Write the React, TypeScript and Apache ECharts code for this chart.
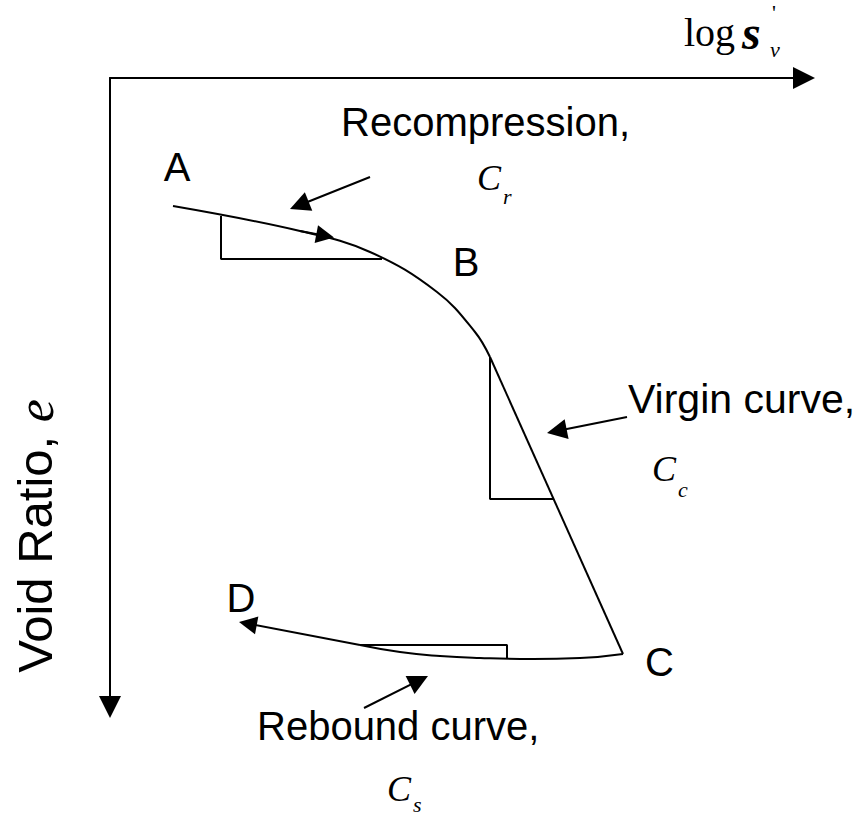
import React, { useEffect, useRef } from "react";
import * as echarts from "echarts";

type Pt = [number, number];

// Compression curve A → B (recompression branch bending into the virgin line)
const recompressionCurve: Pt[] = [
  [63, 501], [190, 476], [260, 455], [327, 415], [365, 375], [380, 350],
];
// Straight virgin compression line B → C
const virginLine: Pt[] = [[380, 350], [513, 53]];
// Unloading (rebound) curve C → D
const reboundCurve: Pt[] = [
  [513, 53], [470, 49], [423, 48], [370, 49], [330, 51], [290, 55], [250, 62],
];
// Last straight piece of the rebound curve, ending in an arrow at D
const reboundTail: [Pt, Pt] = [[250, 62], [129, 85]];
// Direction arrow drawn on the recompression branch
const recompressionArrow: [Pt, Pt] = [[190, 476], [224, 469.5]];

// Slope triangles for Cr, Cc and Cs
const slopeCr: Pt[] = [[111, 491], [111, 448], [272, 448]];
const slopeCc: Pt[] = [[380, 350], [380, 208], [443, 208]];
const slopeCs: Pt[] = [[250, 62], [397, 62], [397, 49]];

// Leader arrows from the annotations to the curve
const leaderArrows: [Pt, Pt][] = [
  [[260, 530], [180, 498]],
  [[517, 290], [437, 274]],
  [[254, -1], [318, 31]],
];

const AXIS_X_MAX = 694;
const AXIS_Y_MAX = 629;

const SANS = "Liberation Sans, Arial, sans-serif";
const SERIF = "Liberation Serif, Times New Roman, serif";

// The arrowhead symbol is centred on the segment end; pull the end back by
// half the head length so that the tip lands on the given point.
// (Both axes map one unit to one pixel.)
function pullBack([from, to]: [Pt, Pt], len: number): [Pt, Pt] {
  const dx = to[0] - from[0];
  const dy = to[1] - from[1];
  const d = Math.hypot(dx, dy);
  return [from, [to[0] - (dx / d) * len, to[1] - (dy / d) * len]];
}

export default function App() {
  const ref = useRef<HTMLDivElement>(null);

  useEffect(() => {
    if (!ref.current) return;
    const chart = echarts.init(ref.current, undefined, { renderer: "svg" });

    const black = "#000";
    const curveStyle = { color: black, width: 2 };

    const lineSeries = (data: Pt[], smooth: boolean | number) => ({
      type: "line",
      data,
      smooth,
      symbol: "none",
      lineStyle: curveStyle,
      silent: true,
      clip: false,
    });

    const arrowSeries = (segs: [Pt, Pt][], size: [number, number]) => ({
      type: "lines",
      coordinateSystem: "cartesian2d",
      data: segs.map((s) => ({ coords: pullBack(s, size[1] / 2) })),
      symbol: ["none", "triangle"],
      symbolSize: size,
      lineStyle: { color: black, width: 2, opacity: 1, curveness: 0 },
      itemStyle: { color: black },
      silent: true,
      clip: false,
    });

    const label = (text: string, x: number, y: number, opts: any = {}) => ({
      type: "text",
      x,
      y,
      silent: true,
      style: {
        text,
        fill: black,
        fontFamily: SANS,
        fontSize: 40,
        align: "left",
        verticalAlign: "middle",
        ...opts,
      },
    });

    const italicC = (x: number, y: number) =>
      label("C", x, y, { fontFamily: SERIF, fontStyle: "italic", fontSize: 36 });
    const sub = (t: string, x: number, y: number) =>
      label(t, x, y, { fontFamily: SERIF, fontStyle: "italic", fontSize: 22 });

    chart.setOption({
      animation: false,
      backgroundColor: "#fff",
      grid: { left: 110, top: 78, width: AXIS_X_MAX, height: AXIS_Y_MAX },
      xAxis: {
        type: "value",
        position: "top",
        min: 0,
        max: AXIS_X_MAX,
        axisLine: {
          show: true,
          onZero: false,
          symbol: ["none", "triangle"],
          symbolSize: [22, 22],
          lineStyle: { color: black, width: 2 },
        },
        axisTick: { show: false },
        axisLabel: { show: false },
        splitLine: { show: false },
      },
      yAxis: {
        type: "value",
        min: 0,
        max: AXIS_Y_MAX,
        axisLine: {
          show: true,
          onZero: false,
          symbol: ["triangle", "none"],
          symbolSize: [22, 22],
          lineStyle: { color: black, width: 2 },
        },
        axisTick: { show: false },
        axisLabel: { show: false },
        splitLine: { show: false },
      },
      series: [
        lineSeries(recompressionCurve, 0.4),
        lineSeries(virginLine, false),
        lineSeries(reboundCurve, 0.5),
        lineSeries(slopeCr, false),
        lineSeries(slopeCc, false),
        lineSeries(slopeCs, false),
        arrowSeries([reboundTail], [14, 18]),
        arrowSeries([recompressionArrow], [15, 18]),
        arrowSeries(leaderArrows, [16, 20]),
      ],
      graphic: [
        label("A", 177, 167, { align: "center" }),
        label("B", 466, 262, { align: "center" }),
        label("C", 645, 662),
        label("D", 241, 598, { align: "center" }),
        label("Recompression,", 341, 122),
        italicC(477, 178),
        sub("r", 503, 196),
        label("Virgin curve,", 628, 399, { fontSize: 41 }),
        italicC(652, 469),
        sub("c", 678, 489),
        label("Rebound curve,", 257, 726),
        italicC(387, 789),
        sub("s", 413, 804),
        {
          type: "text",
          x: 35,
          y: 536,
          rotation: Math.PI / 2,
          silent: true,
          style: {
            text: "{a|Void Ratio, }{b|e}",
            fill: black,
            align: "center",
            verticalAlign: "middle",
            rich: {
              a: { fontFamily: SANS, fontSize: 49, fill: black },
              b: { fontFamily: SERIF, fontStyle: "italic", fontSize: 52, fill: black },
            },
          },
        },
        label("log", 684, 32, { fontFamily: SERIF, fontSize: 40 }),
        label("s", 742, 32, { fontFamily: SERIF, fontStyle: "italic", fontWeight: "bold", fontSize: 48 }),
        label("'", 772, 12, { fontFamily: SERIF, fontSize: 22 }),
        sub("v", 770, 49),
      ],
    });

    return () => chart.dispose();
  }, []);

  return (
    <div
      ref={ref}
      style={{ position: "absolute", left: 0, top: 0, width: 868, height: 818, background: "#fff" }}
    />
  );
}
